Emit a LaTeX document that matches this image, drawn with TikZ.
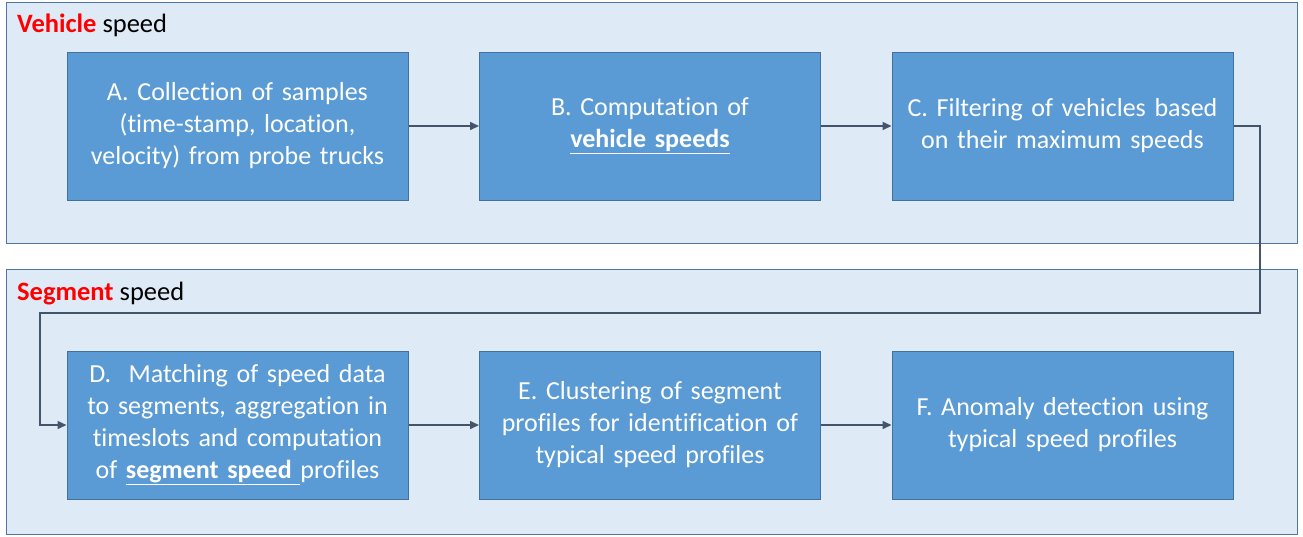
\documentclass[tikz,border=0pt]{standalone}
\usepackage{fontspec}
\setmainfont{Carlito}[Ligatures=NoCommon]
\usetikzlibrary{arrows.meta}
\definecolor{panelfill}{HTML}{DEEBF7}
\definecolor{panelline}{HTML}{4F75A0}
\definecolor{boxfill}{HTML}{5B9BD5}
\definecolor{boxline}{HTML}{41719C}
\definecolor{flow}{HTML}{44546A}
\definecolor{tagred}{HTML}{FF0000}
\tikzset{
  panel/.style={draw=panelline, fill=panelfill, line width=1pt, minimum width=1291pt, inner sep=0pt},
  stepbox/.style={draw=boxline, fill=boxfill, line width=1pt, minimum width=341pt, minimum height=148pt,
    text width=340pt, align=center, text=white, inner sep=0pt, font=\fontsize{26}{32}\selectfont},
  paneltag/.style={anchor=base west, inner sep=0pt, font=\fontsize{26.5}{30}\selectfont},
  flowline/.style={draw=flow, line width=1.5pt, -{Triangle[length=9pt,width=8pt]}}
}
\begin{document}
\begin{tikzpicture}[x=1pt,y=-1pt]
\useasboundingbox (0,0) rectangle (1303,536);
% background panels
\node[panel, minimum height=241pt] (vpanel) at (651.5,122.5) {};
\node[panel, minimum height=265pt] (spanel) at (651.5,401.5) {};
\node[paneltag] (vtag) at (17,32) {\textcolor{tagred}{\textbf{Vehicle}} speed};
\node[paneltag] (stag) at (17,300) {\textcolor{tagred}{\textbf{Segment}} speed};
% process steps
\node[stepbox] (A) at (237.5,126) {A. Collection of samples\\(time-stamp, location,\\velocity) from probe trucks};
\node[stepbox] (B) at (650,126) {B. Computation of\\\underline{\textbf{vehicle speeds}}};
\node[stepbox] (C) at (1062.5,126) {C. Filtering of vehicles based\\on their maximum speeds};
\node[stepbox] (D) at (237.5,425) {D.\ \ Matching of speed data\\to segments, aggregation in\\timeslots and computation\\of \underline{\textbf{segment speed}\ }profiles};
\node[stepbox] (E) at (650,425) {E. Clustering of segment\\profiles for identification of\\typical speed profiles};
\node[stepbox] (F) at (1062.5,425) {F. Anomaly detection using\\typical speed profiles};
% connectors
\coordinate (t1) at (1260,313);
\coordinate (t2) at (40,313);
\draw[flowline] (A) -- (B);
\draw[flowline] (B) -- (C);
\draw[flowline] (C.east) -| (t1) -- (t2) |- (D.west);
\draw[flowline] (D) -- (E);
\draw[flowline] (E) -- (F);
\end{tikzpicture}
\end{document}
